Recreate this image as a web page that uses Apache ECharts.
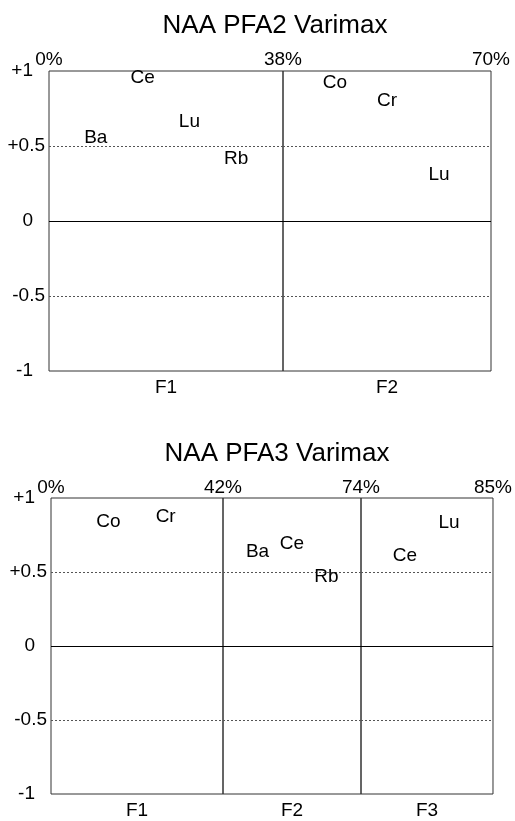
<!DOCTYPE html>
<html>
<head>
<meta charset="utf-8">
<style>
  html, body { margin: 0; padding: 0; background: #fff; }
  #chart { width: 515px; height: 821px; }
</style>
<script src="https://cdn.jsdelivr.net/npm/echarts@6/dist/echarts.min.js"></script>
</head>
<body>
<div id="chart"></div>
<script>
// Varimax-rotated factor loadings from NAA, two- and three-factor solutions.
const pfa2Title = 'NAA PFA2 Varimax';
const pfa2Factors = ['F1', 'F2'];
const pfa2CumVariance = ['0%', '38%', '70%'];
const pfa2F1Elements = ['Ba', 'Ce', 'Lu', 'Rb'];
const pfa2F1Loadings = [0.555, 0.955, 0.66, 0.415];
const pfa2F2Elements = ['Co', 'Cr', 'Lu'];
const pfa2F2Loadings = [0.92, 0.80, 0.31];

const pfa3Title = 'NAA PFA3 Varimax';
const pfa3Factors = ['F1', 'F2', 'F3'];
const pfa3CumVariance = ['0%', '42%', '74%', '85%'];
const pfa3F1Elements = ['Co', 'Cr'];
const pfa3F1Loadings = [0.84, 0.875];
const pfa3F2Elements = ['Ba', 'Ce', 'Rb'];
const pfa3F2Loadings = [0.64, 0.69, 0.47];
const pfa3F3Elements = ['Ce', 'Lu'];
const pfa3F3Loadings = [0.61, 0.83];

const loadingTicks = [-1, -0.5, 0, 0.5, 1];
const loadingTickLabels = ['-1', '-0.5', '0', '+0.5', '+1'];

// Layout of the two panels: column edges in px, plot top and height.
const FONT = "'Liberation Sans', Arial, sans-serif";
const panels = [
  {
    title: pfa2Title, titleTop: 8, top: 71, height: 300, pctMargin: 2,
    edges: [49, 283, 491],
    factors: pfa2Factors, cum: pfa2CumVariance,
    elements: [pfa2F1Elements, pfa2F2Elements],
    loadings: [pfa2F1Loadings, pfa2F2Loadings]
  },
  {
    title: pfa3Title, titleTop: 436, top: 498, height: 299, pctMargin: 1,
    edges: [51, 223, 361, 493],
    factors: pfa3Factors, cum: pfa3CumVariance,
    elements: [pfa3F1Elements, pfa3F2Elements, pfa3F3Elements],
    loadings: [pfa3F1Loadings, pfa3F2Loadings, pfa3F3Loadings]
  }
];

const option = {
  animation: false,
  backgroundColor: '#fff',
  textStyle: { fontFamily: FONT },
  title: [],
  grid: [],
  xAxis: [],
  yAxis: [],
  series: []
};

panels.forEach(function (p) {
  const left0 = p.edges[0];
  const right0 = p.edges[p.edges.length - 1];
  option.title.push({
    text: p.title,
    left: (left0 + right0) / 2,
    top: p.titleTop,
    textAlign: 'center',
    textStyle: { fontFamily: FONT, fontSize: 26, fontWeight: 'normal', color: '#000' }
  });

  p.factors.forEach(function (factor, k) {
    const gi = option.grid.length;
    const names = p.elements[k];
    const vals = p.loadings[k];
    option.grid.push({
      left: p.edges[k],
      width: p.edges[k + 1] - p.edges[k],
      top: p.top,
      height: p.height,
      show: true,
      borderColor: '#333',
      borderWidth: 1,
      backgroundColor: 'transparent'
    });

    // bottom axis: element order within the factor column, named by factor
    const xBottom = option.xAxis.length;
    option.xAxis.push({
      gridIndex: gi,
      type: 'value',
      min: 0,
      max: names.length + 1,
      position: 'bottom',
      name: factor,
      nameLocation: 'middle',
      nameGap: 7,
      nameTextStyle: { fontFamily: FONT, fontSize: 19, color: '#000', verticalAlign: 'top' },
      axisLine: { show: false },
      axisTick: { show: false },
      axisLabel: { show: false },
      splitLine: { show: false }
    });

    // top axis: cumulative explained variance at the column edges
    option.xAxis.push({
      gridIndex: gi,
      type: 'value',
      min: 0,
      max: 1,
      interval: 1,
      position: 'top',
      axisLine: { show: false },
      axisTick: { show: false },
      splitLine: { show: false },
      axisLabel: {
        show: true,
        showMinLabel: k === 0,
        showMaxLabel: true,
        margin: p.pctMargin,
        fontFamily: FONT,
        fontSize: 19,
        color: '#000',
        formatter: function (v) { return v === 0 ? p.cum[k] : p.cum[k + 1]; }
      }
    });

    const yi = option.yAxis.length;
    option.yAxis.push({
      gridIndex: gi,
      type: 'value',
      min: -1,
      max: 1,
      interval: 0.5,
      axisLine: { show: false },
      axisTick: { show: false },
      splitLine: {
        show: true,
        showMinLine: false,
        showMaxLine: false,
        lineStyle: { color: '#555', width: 1, type: [2, 2] }
      },
      axisLabel: {
        show: k === 0,
        margin: 4,
        fontFamily: FONT,
        fontSize: 19,
        color: '#000',
        formatter: function (v) {
          const idx = loadingTicks.indexOf(v);
          const t = idx >= 0 ? loadingTickLabels[idx] : String(v);
          return Number.isInteger(v) ? '{int|' + t + '}' : '{dec|' + t + '}';
        },
        rich: {
          int: { fontFamily: FONT, fontSize: 19, color: '#000', padding: [0, 12, 0, 0] },
          dec: { fontFamily: FONT, fontSize: 19, color: '#000' }
        }
      }
    });

    option.series.push({
      type: 'scatter',
      xAxisIndex: xBottom,
      yAxisIndex: yi,
      symbol: 'circle',
      symbolSize: 0,
      itemStyle: { color: '#000', opacity: 1 },
      silent: true,
      data: names.map(function (n, i) { return [i + 1, vals[i], n]; }),
      label: {
        show: true,
        position: 'inside',
        fontFamily: FONT,
        fontSize: 19,
        color: '#000',
        opacity: 1,
        textBorderWidth: 0,
        formatter: function (prm) { return prm.data[2]; }
      },
      markLine: {
        silent: true,
        symbol: 'none',
        label: { show: false },
        lineStyle: { color: '#000', width: 1, type: 'solid' },
        data: [{ yAxis: 0 }]
      }
    });
  });
});

const chart = echarts.init(document.getElementById('chart'), null, { renderer: 'canvas' });
chart.setOption(option);
</script>
</body>
</html>
